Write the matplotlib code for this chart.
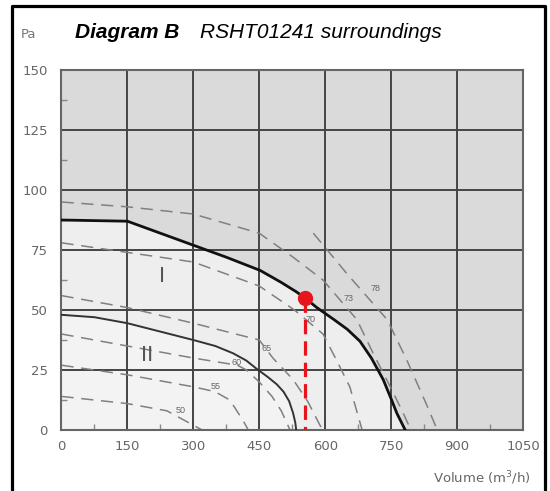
import matplotlib
matplotlib.use("Agg")
import matplotlib.pyplot as plt
from matplotlib.lines import Line2D

plt.rcParams["font.family"] = ["Liberation Sans", "DejaVu Sans"]

# axis ticks
x_ticks = [0, 150, 300, 450, 600, 750, 900, 1050]
y_ticks = [0, 25, 50, 75, 100, 125, 150]

# fan curve I (thick) and II
curve1_x = [0, 150, 225, 300, 375, 452, 500, 535, 554, 581, 620, 650, 679, 705, 732, 750, 763, 782]
curve1_y = [87.5, 87, 82, 77, 72, 66.5, 61.5, 57.5, 55, 51, 46, 42, 37, 30, 21, 13, 7, 0]
curve2_x = [0, 75, 150, 225, 300, 350, 390, 420, 444, 470, 490, 505, 518, 527, 532, 534]
curve2_y = [48, 47, 44.5, 41, 37.5, 35, 32, 29, 25.5, 22, 19, 16, 12, 7, 3, 0]

# sound level lines (dashed)
sound_levels = ["50", "55", "60", "65", "70", "73", "78"]
sound_x = [
    [0, 75, 150, 240, 290, 320],
    [0, 150, 300, 349, 383, 413, 425],
    [0, 150, 300, 400, 421, 450, 479, 500, 520],
    [0, 150, 300, 450, 481, 527, 560, 588, 595],
    [0, 150, 300, 450, 530, 595, 626, 656, 684],
    [0, 150, 300, 450, 527, 595, 672, 709, 748, 775, 795],
    [573, 650, 741, 786, 832, 855],
]
sound_y = [
    [14, 12.5, 11, 8, 3, 0],
    [27, 23, 18, 16, 12.5, 4, 0],
    [40, 35, 30, 27, 25, 20, 14, 8, 0],
    [56, 51, 44.5, 37.5, 30, 21, 12, 2, 0],
    [78, 74, 70, 60, 50, 40, 29, 18, 0],
    [95, 93, 90, 82, 72, 62.5, 46, 32, 18, 8, 0],
    [82, 65, 46, 29, 10, 0],
]
label_x = [270, 350, 398, 467, 566, 654, 715]
label_y = [8, 18, 28, 34, 46, 55, 59]

# operating point
op_x = 554
op_y = 55

fig = plt.figure(figsize=(5.5, 4.91), dpi=100)
ax = fig.add_axes([0.1118, 0.1242, 0.8391, 0.7332])
ax.set_facecolor("#dadada")

ax.fill_between(curve1_x, curve1_y, 0, color="#eeeeee", zorder=0)
ax.fill_between(curve2_x, curve2_y, 0, color="#f3f3f3", zorder=0)

for xs, ys in zip(sound_x, sound_y):
    ax.plot(xs, ys, color="#808080", lw=1.1, dashes=(8, 5), zorder=2)
for t, lx, ly in zip(sound_levels, label_x, label_y):
    ax.text(lx, ly, t, fontsize=6.5, color="#666666", ha="center", va="center", zorder=3)

ax.plot(curve1_x, curve1_y, color="#111111", lw=2.0, zorder=4)
ax.plot(curve2_x, curve2_y, color="#333333", lw=1.4, zorder=4)

ax.text(229, 64, "I", fontsize=16, color="#555555", ha="center", va="center")
ax.text(194, 31, "II", fontsize=16, color="#555555", ha="center", va="center")

ax.plot([op_x, op_x], [op_y, 0], color="#e8141b", lw=2.3, dashes=(4.5, 2.2), zorder=5)
ax.plot(op_x, op_y, "o", color="#e8141b", ms=10, zorder=6)

ax.set_xlim(0, 1050)
ax.set_ylim(0, 150)
ax.set_xticks(x_ticks)
ax.set_yticks(y_ticks)
ax.set_xticks([75 + 150 * i for i in range(7)], minor=True)
ax.set_yticks([12.5 + 25 * i for i in range(6)], minor=True)
ax.grid(True, which="major", color="#444444", lw=1.4, zorder=1)
ax.set_axisbelow(True)
ax.tick_params(which="major", length=0, labelsize=9.5, labelcolor="#666666", pad=10)
ax.tick_params(axis="x", which="major", pad=7)
ax.tick_params(which="minor", direction="in", length=4, color="#888888", width=1)
for lab in ax.get_xticklabels() + ax.get_yticklabels():
    lab.set_family("DejaVu Sans")
for s in ax.spines.values():
    s.set_color("#666666")
    s.set_linewidth(1.5)

fig.text(75 / 550, 1 - 33 / 491, "Diagram B", fontsize=15, fontweight="bold",
         fontstyle="italic", va="center", ha="left")
fig.text(200 / 550, 1 - 33 / 491, "RSHT01241 surroundings", fontsize=15,
         fontstyle="italic", va="center", ha="left")
fig.text(21 / 550, 1 - 35 / 491, "Pa", fontsize=9.5, color="#777777", va="center",
         ha="left", family="DejaVu Sans")
fig.text(531 / 550, 1 - 478 / 491, "Volume (m$^3$/h)", fontsize=9.5, color="#666666",
         va="center", ha="right", family="DejaVu Sans")

# outer frame
fx0, fx1, fy1 = 12 / 550, 545 / 550, 1 - 6 / 491
fig.add_artist(Line2D([fx0, fx0, fx1, fx1], [0, fy1, fy1, 0], color="black", lw=2.3,
                      transform=fig.transFigure))

fig.savefig("out.png", dpi=100)
